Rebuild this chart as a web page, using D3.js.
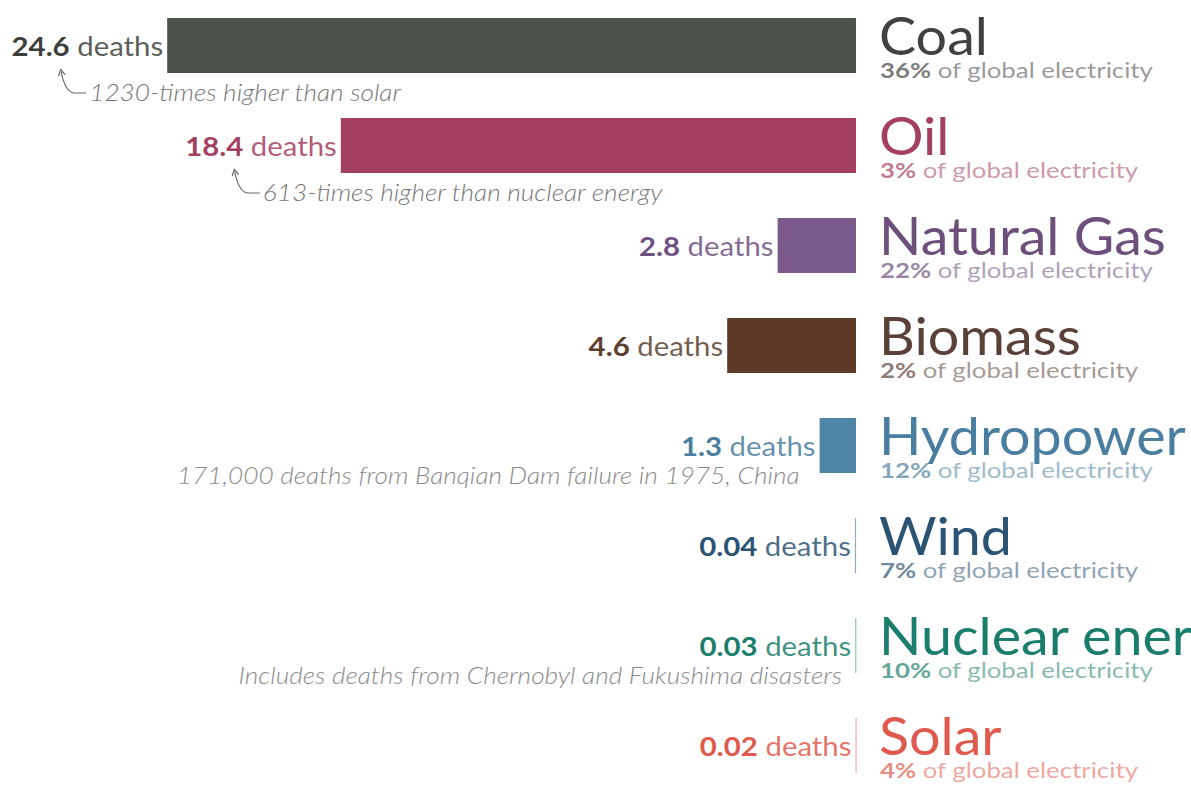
<!DOCTYPE html>
<html>
<head>
<meta charset="utf-8">
<script src="https://cdn.jsdelivr.net/npm/d3@7"></script>
<style>
  body { margin: 0; background: #fff; }
  svg { display: block; font-family: Lato, "Open Sans", sans-serif; }
</style>
</head>
<body>
<svg id="chart"></svg>
<script>
// death rates per TWh of electricity
const sources = ["Coal", "Oil", "Natural Gas", "Biomass", "Hydropower", "Wind", "Nuclear energy", "Solar"]
const deaths = [24.6, 18.4, 2.8, 4.6, 1.3, 0.04, 0.03, 0.02]
const deathLabels = ["24.6", "18.4", "2.8", "4.6", "1.3", "0.04", "0.03", "0.02"]
const shares = ["36%", "3%", "22%", "2%", "12%", "7%", "10%", "4%"]
const colors = ["#4a5249", "#a3405f", "#7b5a8b", "#5c3a27", "#4f86a8", "#2c5878", "#1d8a76", "#e0594c"]
const labelColors = ["#3b3f3b", "#a3405f", "#6f5080", "#5a3f30", "#4a7ea0", "#2b5474", "#1b7e6c", "#df5a4c"]
const nameColors = ["#3f423f", "#a3405f", "#6d4f7b", "#5a4038", "#4a7ea0", "#2b5474", "#1b7e6c", "#df5a4c"]
const notesBelow = [null, null, null, null, "171,000 deaths from Banqian Dam failure in 1975, China", null,
    "Includes deaths from Chernobyl and Fukushima disasters", null]
const arrowNotes = ["1230-times higher than solar", "613-times higher than nuclear energy"]

const W = 1191, H = 788

const svg = d3.select("#chart")
    .attr("width", W)
    .attr("height", H)

const x = d3.scaleLinear()
    .domain([0, 25])
    .range([856, 156])

const y = d3.scaleBand()
    .domain(sources)
    .range([18, 18 + 100 * 7.55])
    .paddingInner(0.45)
    .paddingOuter(0)

// text in the picture is a bit wider than Lato, stretch it sideways
const place = (px, py, sx) => `translate(${px},${py}) scale(${sx},1)`

svg.append("defs").append("marker")
    .attr("id", "arrow")
    .attr("viewBox", "0 0 10 10")
    .attr("refX", 5)
    .attr("refY", 5)
    .attr("markerWidth", 7)
    .attr("markerHeight", 7)
    .attr("orient", "auto-start-reverse")
    .append("path")
    .attr("d", "M1,1 L8,5 L1,9")
    .attr("fill", "none")
    .attr("stroke", "#666")
    .attr("stroke-width", 1.4)

const rows = svg.selectAll("g.row")
    .data(sources)
    .join("g")
    .attr("class", "row")

// bars
rows.append("rect")
    .attr("x", (d, i) => x(deaths[i]))
    .attr("y", d => y(d))
    .attr("width", (d, i) => Math.max(1.2, x(0) - x(deaths[i])))
    .attr("height", y.bandwidth())
    .attr("fill", (d, i) => colors[i])
    .attr("fill-opacity", (d, i) => deaths[i] < 0.1 ? 0.5 : 1)

// value labels
const vals = rows.append("text")
    .attr("transform", (d, i) => place(x(deaths[i]) - 4, y(d) + y.bandwidth() / 2 + 10, 1.13))
    .attr("text-anchor", "end")
    .style("font-size", "26px")
    .style("fill", (d, i) => labelColors[i])

vals.append("tspan")
    .style("font-weight", "bold")
    .text((d, i) => deathLabels[i])
vals.append("tspan")
    .style("fill-opacity", 0.85)
    .text(" deaths")

// source names
rows.append("text")
    .attr("transform", d => place(879, y(d) + 37, 1.07))
    .style("font-size", "52px")
    .style("fill", (d, i) => nameColors[i])
    .text(d => d)

const subs = rows.append("text")
    .attr("transform", d => place(880, y(d) + 60, 1.26))
    .style("font-size", "20.5px")
    .style("fill", (d, i) => nameColors[i])

subs.append("tspan")
    .style("font-weight", "bold")
    .style("fill-opacity", 0.7)
    .text((d, i) => shares[i])
subs.append("tspan")
    .style("fill-opacity", 0.55)
    .text(" of global electricity")

// italic notes under hydro / nuclear
rows.filter((d, i) => notesBelow[i])
    .append("text")
    .attr("transform", d => place(x(deaths[sources.indexOf(d)]) - (d == "Hydropower" ? 20 : 13),
        y(d) + y.bandwidth() / 2 + 38, 1.14))
    .attr("text-anchor", "end")
    .style("font-size", "23px")
    .style("font-style", "italic")
    .style("font-weight", 300)
    .style("fill", "#8a8a8a")
    .text(d => notesBelow[sources.indexOf(d)])

// curved arrow notes under coal and oil
arrowNotes.forEach((note, i) => {
    const tipX = x(deaths[i]) - 107
    const top = y(sources[i]) + y.bandwidth() - 2

    svg.append("path")
        .attr("d", `M${tipX + 26},${top + 22} L${tipX + 14},${top + 22} Q${tipX + 5},${top + 21} ${tipX + 1},${top + 1}`)
        .attr("fill", "none")
        .attr("stroke", "#666")
        .attr("stroke-width", 1.2)
        .attr("marker-end", "url(#arrow)")

    svg.append("text")
        .attr("transform", place(tipX + 29, top + 30, 1.14))
        .style("font-size", "23px")
        .style("font-style", "italic")
        .style("font-weight", 300)
        .style("fill", "#777")
        .text(note)
})
</script>
</body>
</html>
